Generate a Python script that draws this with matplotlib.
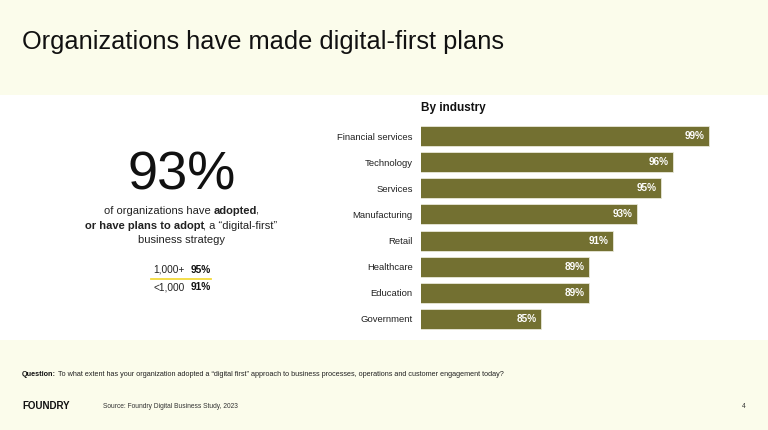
import matplotlib
matplotlib.use("Agg")
import matplotlib.pyplot as plt
from matplotlib.patches import Rectangle
from matplotlib.lines import Line2D

# ---- data ----
categories = ["Financial services", "Technology", "Services", "Manufacturing",
              "Retail", "Healthcare", "Education", "Government"]
values = [99, 96, 95, 93, 91, 89, 89, 85]
headline_value = "93%"
size_labels = ["1,000+", "<1,000"]
size_values = ["95%", "91%"]

FONT = ["Liberation Sans", "DejaVu Sans"]
plt.rcParams["font.family"] = FONT

W, H = 768, 430
fig = plt.figure(figsize=(W / 100, H / 100), dpi=100)
fig.patch.set_facecolor("white")

CREAM = "#FBFCEB"
BAR = "#737031"


def fx(px):
    return px / W


def fy(py):
    return 1 - py / H


# background bands
fig.add_artist(Rectangle((0, fy(95)), 1, 95 / H, transform=fig.transFigure,
                         facecolor=CREAM, edgecolor="none", zorder=0))
fig.add_artist(Rectangle((0, 0), 1, 90 / H, transform=fig.transFigure,
                         facecolor=CREAM, edgecolor="none", zorder=0))

# title
fig.text(fx(22), fy(48.5), "Organizations have made digital-first plans",
         fontsize=18.3, color="#111111", va="baseline", ha="left")

# headline
fig.text(fx(182), fy(190), headline_value, fontsize=39, color="#111111",
         ha="center", va="baseline")

renderer = fig.canvas.get_renderer()


def mixed_line(cx, cy, pieces, size=8):
    texts = []
    for s, bold in pieces:
        t = fig.text(0, fy(cy), s, fontsize=size, color="#222222",
                     fontweight="bold" if bold else "normal",
                     ha="left", va="baseline")
        texts.append(t)
    widths = []
    for i, t in enumerate(texts):
        wd = t.get_window_extent(renderer).width
        if i + 1 < len(pieces) and pieces[i + 1][0].startswith(","):
            wd -= 1.5
        widths.append(wd)
    total = sum(widths)
    x = cx - total / 2
    for t, w in zip(texts, widths):
        t.set_x(fx(x))
        x += w


mixed_line(181, 214, [("of organizations have ", False), ("adopted", True), (",", False)])
mixed_line(181, 229, [("or have plans to adopt", True), (", a \u201cdigital-first\u201d", False)])
mixed_line(181, 243, [("business strategy", False)])

# company size mini table
for i, (lab, val) in enumerate(zip(size_labels, size_values)):
    yy = 270 + i * 17
    fig.text(fx(153), fy(yy), lab, fontsize=7.3, color="#222222", ha="left", va="center")
    fig.text(fx(191), fy(yy), val, fontsize=7.3, color="#111111", fontweight="bold",
             ha="left", va="center")
fig.add_artist(Line2D([fx(151), fx(211)], [fy(278.5), fy(278.5)], transform=fig.transFigure,
                      color="#F2DA3C", linewidth=1.3))

# bar chart
ax = fig.add_axes([fx(421), fy(332), fx(300), 209 / H])
ax.set_facecolor("none")
y = list(range(len(categories)))
ax.barh(y, values, height=0.77, color=BAR, edgecolor="#e8e8d8", linewidth=0.6)
ax.set_xlim(75, 100)
ax.set_ylim(len(categories) - 0.5, -0.5)
ax.set_yticks(y)
ax.set_yticklabels(categories, fontsize=6.8, color="#222222")
ax.tick_params(axis="y", length=0, pad=6)
ax.set_xticks([])
for s in ax.spines.values():
    s.set_visible(False)
for yi, v in zip(y, values):
    ax.text(v - 0.35, yi, f"{v}%", color="white", fontsize=7.2, fontweight="bold",
            ha="right", va="center")

fig.text(fx(421), fy(108), "By industry", fontsize=8.5, fontweight="bold",
         color="#111111", ha="left", va="center")

# footer
q1 = fig.text(fx(22), fy(375), "Question:", fontsize=5.25, fontweight="bold",
              color="#111111", ha="left", va="center")
w = q1.get_window_extent(renderer).width
fig.text(fx(22 + w + 2), fy(375),
         "To what extent has your organization adopted a \u201cdigital first\u201d approach to business processes, operations and customer engagement today?",
         fontsize=5.25, color="#222222", ha="left", va="center")
fig.text(fx(22), fy(406), "FOUNDRY", fontsize=7, fontweight="heavy", color="#111111",
         ha="left", va="center")
fig.text(fx(103), fy(407), "Source: Foundry Digital Business Study, 2023", fontsize=4.8,
         color="#333333", ha="left", va="center")
fig.text(fx(742), fy(407), "4", fontsize=4.8, color="#333333", ha="left", va="center")

fig.savefig("out.png", dpi=100, facecolor=fig.get_facecolor())
